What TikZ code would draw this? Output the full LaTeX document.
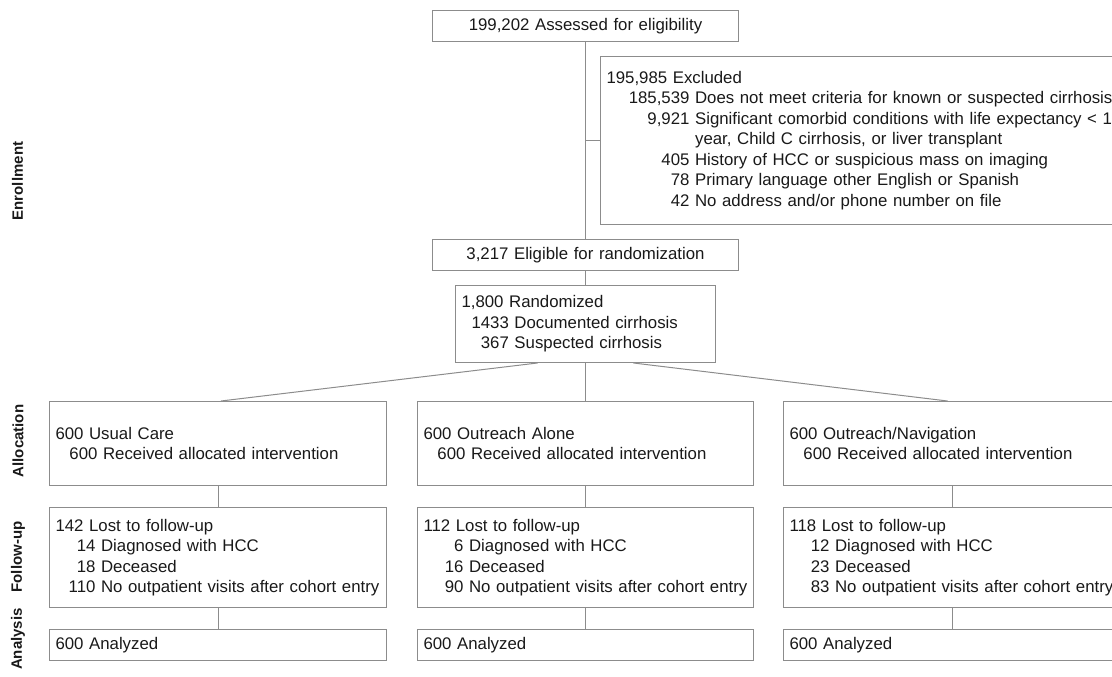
\documentclass[tikz,border=0pt]{standalone}
\usepackage{fontspec}
\setmainfont{Liberation Sans}

\newcommand{\subrow}[3]{\hspace*{#1}\makebox[#2][r]{#3}\ }

\tikzset{
    box/.style={draw=black!45, line width=1pt, anchor=north west, align=left,
        inner xsep=6pt, inner ysep=0pt, text=black!90,
        font=\fontsize{16.8}{20.5}\selectfont},
    cbox/.style={box, align=center},
    phase/.style={rotate=90, text=black!90,
        font=\fontsize{15}{18}\selectfont\bfseries},
    link/.style={draw=black!45, line width=1pt}
}

\begin{document}
\begin{tikzpicture}[x=1pt, y=-1pt]
    \useasboundingbox (0,0) rectangle (1112,677);
    \clip (0,0) rectangle (1112,677);

    \node[phase] (enr) at (17.5,181) {Enrollment};
    \node[phase] (all) at (18,441) {Allocation};
    \node[phase] (fol) at (18,557) {Follow-up};
    \node[phase] (ana) at (18,639) {Analysis};

    \node[cbox, text width=294pt, minimum height=31pt] (assess) at (432,10)
        {199,202 Assessed for eligibility};
    \node[box, text width=513pt, minimum height=168pt] (excl) at (600,56)
        {195,985 Excluded\\
        \subrow{22pt}{61pt}{185,539}Does not meet criteria for known or suspected cirrhosis\\
        \subrow{22pt}{61pt}{9,921}Significant comorbid conditions with life expectancy < 1\\
        \subrow{22pt}{61pt}{}year, Child C cirrhosis, or liver transplant\\
        \subrow{22pt}{61pt}{405}History of HCC or suspicious mass on imaging\\
        \subrow{22pt}{61pt}{78}Primary language other English or Spanish\\
        \subrow{22pt}{61pt}{42}No address and/or phone number on file};
    \node[cbox, text width=294pt, minimum height=31pt] (elig) at (432,239)
        {3,217 Eligible for randomization};
    \node[box, text width=248pt, minimum height=77pt] (rand) at (455,285)
        {1,800 Randomized\\
        \subrow{10pt}{37.4pt}{1433}Documented cirrhosis\\
        \subrow{10pt}{37.4pt}{367}Suspected cirrhosis};

    \node[box, text width=325pt, minimum height=84pt] (al1) at (49,401)
        {600 Usual Care\\ \subrow{14pt}{28pt}{600}Received allocated intervention};
    \node[box, text width=324pt, minimum height=84pt] (al2) at (417,401)
        {600 Outreach Alone\\ \subrow{14pt}{28pt}{600}Received allocated intervention};
    \node[box, text width=326pt, minimum height=84pt] (al3) at (783,401)
        {600 Outreach/Navigation\\ \subrow{14pt}{28pt}{600}Received allocated intervention};

    \node[box, text width=325pt, minimum height=100pt] (fu1) at (49,507)
        {142 Lost to follow-up\\
        \subrow{12pt}{28pt}{14}Diagnosed with HCC\\
        \subrow{12pt}{28pt}{18}Deceased\\
        \subrow{12pt}{28pt}{110}No outpatient visits after cohort entry};
    \node[box, text width=324pt, minimum height=100pt] (fu2) at (417,507)
        {112 Lost to follow-up\\
        \subrow{12pt}{28pt}{6}Diagnosed with HCC\\
        \subrow{12pt}{28pt}{16}Deceased\\
        \subrow{12pt}{28pt}{90}No outpatient visits after cohort entry};
    \node[box, text width=326pt, minimum height=100pt] (fu3) at (783,507)
        {118 Lost to follow-up\\
        \subrow{12pt}{28pt}{12}Diagnosed with HCC\\
        \subrow{12pt}{28pt}{23}Deceased\\
        \subrow{12pt}{28pt}{83}No outpatient visits after cohort entry};

    \node[box, text width=325pt, minimum height=31pt] (an1) at (49,629) {600 Analyzed};
    \node[box, text width=324pt, minimum height=31pt] (an2) at (417,629) {600 Analyzed};
    \node[box, text width=326pt, minimum height=31pt] (an3) at (783,629) {600 Analyzed};

    \draw[link] (assess) -- (elig);
    \draw[link] (assess.south |- excl.west) -- (excl.west);
    \draw[link] (elig) -- (rand);
    \draw[link] (rand) -- (al2);
    \draw[link] ([xshift=-48pt]rand.south) -- ([xshift=3pt]al1.north);
    \draw[link] ([xshift=48pt]rand.south) -- ([xshift=-5pt]al3.north);
    \draw[link] (al1) -- (fu1);
    \draw[link] (al2) -- (fu2);
    \draw[link] (al3) -- (fu3);
    \draw[link] (fu1) -- (an1);
    \draw[link] (fu2) -- (an2);
    \draw[link] (fu3) -- (an3);
\end{tikzpicture}
\end{document}
